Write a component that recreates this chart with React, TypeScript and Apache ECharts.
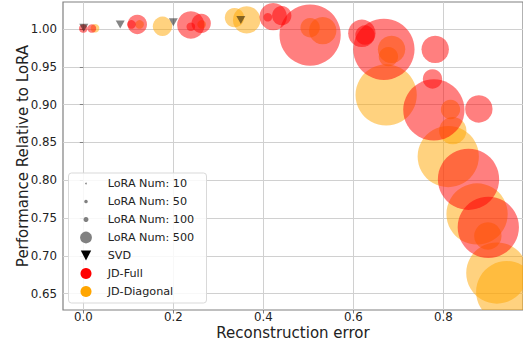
import React, { useEffect, useRef } from "react";
import * as echarts from "echarts";

// Axis ticks
const xTicks = [0.0, 0.2, 0.4, 0.6, 0.8];
const yTicks = [0.65, 0.7, 0.75, 0.8, 0.85, 0.9, 0.95, 1.0];

// JD-Diagonal (orange): reconstruction error, relative performance, LoRA num
const diagX = [0.026, 0.125, 0.176, 0.263, 0.336, 0.363, 0.504, 0.532, 0.678, 0.685, 0.673, 0.816, 0.821, 0.811, 0.875, 0.899, 0.919, 0.941];
const diagY = [1.001, 1.006, 1.0036, 1.006, 1.015, 1.012, 1.0017, 0.9978, 0.9634, 0.9731, 0.9127, 0.8935, 0.8655, 0.8313, 0.7553, 0.7262, 0.6772, 0.6525];
const diagN = [10, 10, 50, 10, 50, 100, 50, 100, 50, 100, 500, 50, 100, 500, 500, 100, 500, 500];

// JD-Full (red)
const fullX = [0.0, 0.019, 0.107, 0.12, 0.239, 0.239, 0.262, 0.41, 0.422, 0.441, 0.504, 0.619, 0.626, 0.668, 0.782, 0.776, 0.779, 0.879, 0.856, 0.9];
const fullY = [1.0007, 1.0007, 1.006, 1.006, 1.003, 1.0053, 1.0075, 1.0155, 1.0163, 1.0176, 0.992, 0.9943, 0.992, 0.9731, 0.9731, 0.9339, 0.8929, 0.8942, 0.8012, 0.7377];
const fullN = [10, 10, 10, 50, 10, 100, 50, 10, 100, 50, 500, 100, 50, 500, 100, 50, 500, 100, 500, 500];

// SVD (triangles)
const svdX = [0.001, 0.082, 0.2, 0.35];
const svdY = [1.0017, 1.006, 1.0089, 1.0119];

// Legend size entries
const loraNums = [10, 50, 100, 500];

const FONT = "DejaVu Sans";

function zip3(a: number[], b: number[], c: number[]) {
  return a.map((v, i) => [v, b[i], c[i]]);
}

function bubbleRenderer(color: string) {
  return (_params: any, api: any) => {
    const p = api.coord([api.value(0), api.value(1)]);
    const r = 1.37 * Math.sqrt(api.value(2));
    return {
      type: "circle",
      shape: { cx: p[0], cy: p[1], r },
      style: { fill: color },
    };
  };
}

export default function App() {
  const ref = useRef<HTMLDivElement>(null);

  useEffect(() => {
    if (!ref.current) return;
    const chart = echarts.init(ref.current, undefined, { renderer: "svg" });

    const legendTop = 183.5;
    const step = 18;
    const mx = 86;
    const tx = 107.7;
    const legendLabels = [
      ...loraNums.map((n) => `LoRA Num: ${n}`),
      "SVD",
      "JD-Full",
      "JD-Diagonal",
    ];
    const sizeR = [0.8, 1.8, 2.5, 5.9];
    const legendEls: any[] = [
      {
        type: "rect",
        shape: { x: 68.5, y: 173, width: 138, height: 130, r: 3 },
        style: { fill: "rgba(255,255,255,0.85)", stroke: "#d9d9d9", lineWidth: 1 },
        z: 100,
      },
    ];
    legendLabels.forEach((lab, i) => {
      const cy = legendTop + i * step;
      legendEls.push({
        type: "text",
        x: tx,
        y: cy,
        style: {
          text: lab,
          fill: "#222",
          font: `11.2px "${FONT}"`,
          verticalAlign: "middle",
          align: "left",
        },
        z: 101,
      });
      if (i < 4) {
        legendEls.push({
          type: "circle",
          shape: { cx: mx, cy, r: sizeR[i] },
          style: { fill: "#808080" },
          z: 101,
        });
      } else if (i === 4) {
        legendEls.push({
          type: "polygon",
          shape: { points: [[80.8, cy - 5], [91.2, cy - 5], [86, cy + 5]] },
          style: { fill: "#000" },
          z: 101,
        });
      } else {
        legendEls.push({
          type: "circle",
          shape: { cx: mx, cy, r: 5.5 },
          style: { fill: i === 5 ? "#ff0000" : "#ffa500" },
          z: 101,
        });
      }
    });

    const axisLabelStyle = { color: "#222", fontSize: 11.8, fontFamily: FONT };

    chart.setOption({
      animation: false,
      backgroundColor: "#fff",
      grid: {
        left: 63,
        top: 2,
        right: 0,
        bottom: 33,
        containLabel: false,
        outerBoundsMode: "none",
        show: true,
        borderColor: "#808080",
        borderWidth: 1.2,
        backgroundColor: "transparent",
      },
      xAxis: {
        type: "value",
        min: -0.0451,
        max: 0.9771,
        axisLine: { show: false },
        axisTick: { show: true, length: 3.5, lineStyle: { color: "#808080" }, customValues: xTicks },
        axisLabel: {
          ...axisLabelStyle,
          margin: 1,
          customValues: xTicks,
          formatter: (v: number) => v.toFixed(1),
        },
        splitLine: { show: true, lineStyle: { color: "#d0d0d0", width: 1 } },
        name: "Reconstruction error",
        nameLocation: "middle",
        nameGap: 15.5,
        nameMoveOverlap: false,
        nameTextStyle: { color: "#222", fontSize: 15, fontFamily: FONT },
      },
      yAxis: {
        type: "value",
        min: 0.6283,
        max: 1.0357,
        axisLine: { show: false },
        axisTick: { show: true, length: 3.5, lineStyle: { color: "#808080" }, customValues: yTicks },
        axisLabel: {
          ...axisLabelStyle,
          margin: 6,
          customValues: yTicks,
          formatter: (v: number) => v.toFixed(2),
        },
        splitLine: { show: true, lineStyle: { color: "#d0d0d0", width: 1 } },
        name: "Performance Relative to LoRA",
        nameLocation: "middle",
        nameGap: 33,
        nameMoveOverlap: false,
        nameTextStyle: { color: "#222", fontSize: 15, fontFamily: FONT },
      },
      graphic: legendEls,
      series: [
        {
          name: "JD-Diagonal",
          type: "custom",
          clip: true,
          dimensions: ["x", "y", "n"],
          encode: { x: 0, y: 1 },
          data: zip3(diagX, diagY, diagN),
          renderItem: bubbleRenderer("rgba(255,165,0,0.5)"),
          z: 2,
        },
        {
          name: "JD-Full",
          type: "custom",
          clip: true,
          dimensions: ["x", "y", "n"],
          encode: { x: 0, y: 1 },
          data: zip3(fullX, fullY, fullN),
          renderItem: bubbleRenderer("rgba(255,0,0,0.5)"),
          z: 3,
        },
        {
          name: "SVD",
          type: "scatter",
          symbol: "triangle",
          symbolRotate: 180,
          symbolSize: [9, 8],
          itemStyle: { color: "rgba(0,0,0,0.6)" },
          data: svdX.map((x, i) => [x, svdY[i]]),
          z: 4,
        },
      ],
    });

    return () => chart.dispose();
  }, []);

  return (
    <div
      ref={ref}
      style={{ position: "absolute", left: 0, top: 0, width: 523, height: 343 }}
    />
  );
}
